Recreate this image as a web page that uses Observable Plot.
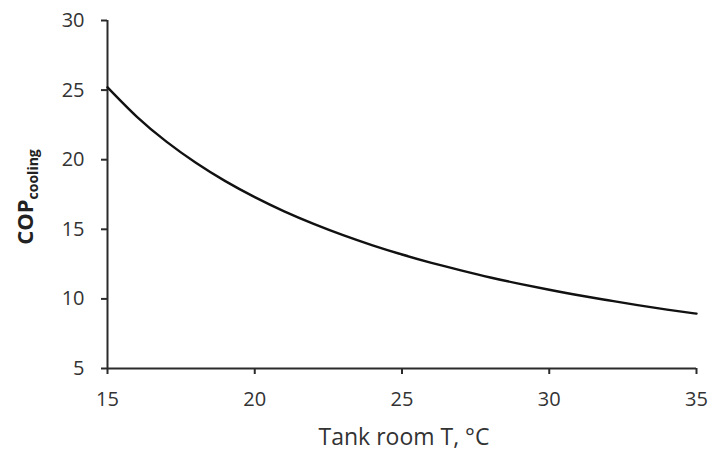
<!DOCTYPE html>
<html>
<head>
<meta charset="utf-8">
<script src="https://cdn.jsdelivr.net/npm/d3@7"></script>
<script src="https://cdn.jsdelivr.net/npm/@observablehq/plot@0.6"></script>
<style>
  html, body { margin: 0; padding: 0; background: #fff; }
  #chart svg { display: block; }
</style>
</head>
<body>
<div id="chart"></div>
<script>
// Tank room temperature (°C)
const temperature = [15, 16, 17, 18, 19, 20, 21, 22, 23, 24, 25, 26, 27, 28, 29, 30, 31, 32, 33, 34, 35];
// COP cooling
const copCooling = [25.20, 23.08, 21.30, 19.78, 18.46, 17.31, 16.29, 15.39, 14.58, 13.85, 13.19, 12.59, 12.05, 11.54, 11.08, 10.66, 10.26, 9.90, 9.55, 9.23, 8.94];
const xTicks = [15, 20, 25, 30, 35];
const yTicks = [5, 10, 15, 20, 25, 30];
const xLabel = "Tank room T, °C";
const yLabelMain = "COP";
const yLabelSub = "cooling";

const data = temperature.map((t, i) => ({t, cop: copCooling[i]}));

const font = "'Open Sans', sans-serif";
const axisColor = "#2b2b2b";
const textColor = "#333";

const chart = Plot.plot({
  width: 708,
  height: 450,
  marginLeft: 107,
  marginRight: 12,
  marginTop: 20,
  marginBottom: 82,
  style: {fontFamily: font, fontSize: "20px", color: textColor, background: "#fff"},
  x: {domain: [15, 35], ticks: xTicks, label: null},
  y: {domain: [5, 30], ticks: yTicks, label: null},
  marks: [
    Plot.axisX({ticks: xTicks, tickSize: 6, tickPadding: 17, fontSize: 20, stroke: axisColor, strokeWidth: 2, fill: textColor, label: null}),
    Plot.axisY({ticks: yTicks, tickSize: 6, tickPadding: 17, fontSize: 20, stroke: axisColor, strokeWidth: 2, fill: textColor, label: null}),
    Plot.ruleX([15], {stroke: axisColor, strokeWidth: 2}),
    Plot.ruleY([5], {stroke: axisColor, strokeWidth: 2}),
    Plot.lineY(data, {x: "t", y: "cop", curve: "natural", stroke: "#111", strokeWidth: 2.4}),
    Plot.text([xLabel], {frameAnchor: "bottom", dy: 76, dx: 2, text: d => d, fontSize: 23, fill: textColor, fontFamily: font})
  ]
});

document.getElementById("chart").appendChild(chart);

const svg = d3.select(chart);

// Y axis title with subscript
const yl = svg.append("text")
  .attr("transform", "translate(33,197) rotate(-90)")
  .attr("text-anchor", "middle")
  .attr("font-family", font)
  .attr("font-weight", "bold")
  .attr("fill", "#222")
  .attr("font-size", 22);
yl.append("tspan").text(yLabelMain);
yl.append("tspan").attr("font-size", 14).attr("dy", 5).text(yLabelSub);
</script>
</body>
</html>
